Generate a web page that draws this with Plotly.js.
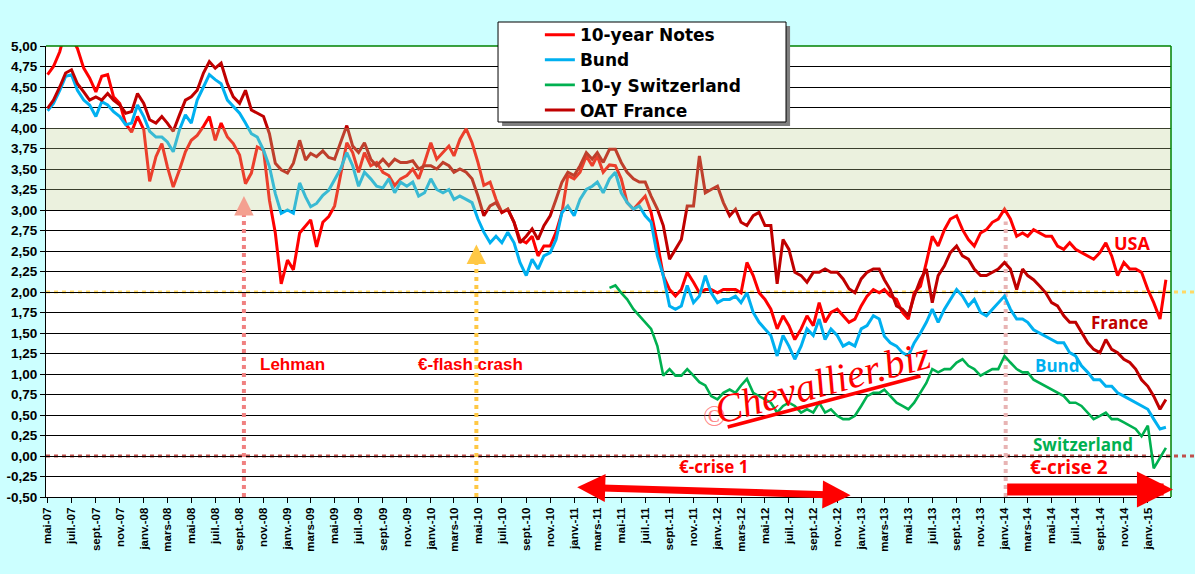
<!DOCTYPE html>
<html><head><meta charset="utf-8">
<script src="https://cdn.plot.ly/plotly-3.0.1.min.js"></script>
<style>html,body{margin:0;padding:0;background:#CCFFFF;} #chart{width:1195px;height:574px;}</style>
</head><body><div id="chart"></div>
<script>
// Grid of observations: 1st and 16th of each month, starting May 2007
const gridStartYear = 2007, gridStartMonth = 5;
const swissStartIndex = 94; // Swiss series starts April 2011

const usNotes = [
4.65,4.75,4.93,5.20,5.10,4.97,4.73,4.61,4.44,4.63,
4.65,4.38,4.30,4.05,3.95,4.14,3.98,3.35,3.65,3.81,
3.53,3.28,3.49,3.71,3.85,3.91,4.02,4.14,3.85,4.06,
3.89,3.81,3.67,3.32,3.45,3.77,3.73,3.12,2.72,2.10,
2.39,2.27,2.72,2.80,2.88,2.55,2.85,2.92,3.05,3.42,
3.82,3.70,3.46,3.70,3.54,3.58,3.46,3.42,3.30,3.38,
3.42,3.50,3.38,3.58,3.82,3.62,3.70,3.78,3.66,3.86,
3.99,3.82,3.58,3.30,3.34,3.13,2.97,3.01,2.85,2.64,
2.60,2.68,2.44,2.56,2.56,2.73,2.97,3.42,3.38,3.46,
3.66,3.54,3.66,3.46,3.55,3.54,3.38,3.09,3.01,3.09,
3.17,2.97,2.60,2.20,2.03,1.95,2.03,2.24,2.12,1.99,
2.03,2.03,1.99,2.03,2.03,2.03,1.99,2.36,2.20,1.99,
1.91,1.79,1.55,1.71,1.59,1.42,1.55,1.71,1.59,1.87,
1.63,1.75,1.79,1.71,1.63,1.67,1.83,1.95,2.03,1.99,
2.03,1.95,1.91,1.75,1.67,1.99,2.07,2.36,2.68,2.56,
2.76,2.89,2.93,2.76,2.64,2.56,2.72,2.76,2.85,2.89,
3.01,2.89,2.68,2.72,2.68,2.76,2.72,2.68,2.68,2.56,
2.52,2.60,2.52,2.48,2.44,2.40,2.48,2.60,2.44,2.20,
2.36,2.28,2.28,2.24,2.03,1.87,1.67,2.15];

const bund = [
4.21,4.30,4.46,4.63,4.65,4.46,4.34,4.28,4.14,4.32,
4.28,4.20,4.14,4.04,4.06,4.28,4.14,3.96,3.89,3.89,
3.83,3.71,3.98,4.16,4.06,4.34,4.50,4.65,4.59,4.54,
4.34,4.26,4.18,4.06,3.93,3.89,3.73,3.53,3.20,2.96,
3.00,2.96,3.33,3.16,3.04,3.08,3.18,3.24,3.38,3.50,
3.70,3.54,3.29,3.46,3.38,3.29,3.27,3.38,3.21,3.34,
3.29,3.34,3.17,3.21,3.38,3.25,3.21,3.25,3.13,3.17,
3.13,3.09,2.89,2.73,2.60,2.68,2.60,2.73,2.60,2.36,
2.20,2.40,2.28,2.44,2.48,2.64,2.97,3.05,2.93,3.13,
3.25,3.29,3.34,3.21,3.38,3.46,3.21,3.09,3.01,3.05,
2.93,2.85,2.44,2.20,1.83,1.79,1.83,2.08,1.87,1.95,
2.20,1.99,1.87,1.91,1.91,1.95,1.87,1.99,1.75,1.63,
1.55,1.47,1.22,1.47,1.34,1.18,1.34,1.55,1.47,1.67,
1.42,1.55,1.47,1.34,1.38,1.34,1.55,1.59,1.71,1.67,
1.46,1.38,1.34,1.26,1.22,1.38,1.50,1.63,1.79,1.63,
1.79,1.91,2.03,1.95,1.83,1.91,1.75,1.71,1.79,1.87,
1.95,1.79,1.67,1.67,1.63,1.54,1.50,1.46,1.42,1.38,
1.38,1.26,1.22,1.10,1.02,0.93,0.93,0.85,0.85,0.77,
0.73,0.69,0.65,0.61,0.57,0.45,0.33,0.35];

const swiss = [
2.05,2.08,1.99,1.91,1.79,1.71,1.63,1.55,1.34,0.98,
1.06,0.98,0.98,1.06,0.98,0.90,0.86,0.73,0.69,0.77,
0.81,0.77,0.86,0.94,0.77,0.73,0.69,0.65,0.53,0.61,
0.65,0.61,0.53,0.57,0.53,0.65,0.53,0.57,0.49,0.45,
0.45,0.49,0.61,0.73,0.77,0.77,0.81,0.73,0.65,0.61,
0.57,0.65,0.77,0.89,1.06,1.02,1.06,1.06,1.14,1.18,
1.10,1.06,0.98,1.02,1.06,1.06,1.22,1.14,1.06,1.02,
1.02,0.93,0.89,0.85,0.81,0.77,0.73,0.65,0.65,0.61,
0.53,0.45,0.49,0.53,0.45,0.45,0.41,0.37,0.33,0.24,
0.37,-0.15,-0.02,0.10];

const oatFrance = [
4.24,4.34,4.50,4.67,4.71,4.54,4.44,4.34,4.38,4.34,
4.42,4.34,4.28,4.18,4.20,4.42,4.30,4.10,4.06,4.14,
4.06,3.96,4.16,4.34,4.38,4.46,4.67,4.81,4.73,4.79,
4.54,4.38,4.30,4.46,4.22,4.18,4.14,3.93,3.57,3.49,
3.45,3.57,3.85,3.61,3.69,3.65,3.72,3.64,3.62,3.82,
4.03,3.78,3.70,3.82,3.62,3.54,3.62,3.54,3.62,3.58,
3.58,3.60,3.50,3.54,3.54,3.50,3.58,3.54,3.46,3.50,
3.46,3.38,3.17,2.93,3.05,3.09,2.97,3.01,2.85,2.60,
2.68,2.77,2.64,2.81,2.93,3.13,3.34,3.46,3.42,3.54,
3.70,3.62,3.70,3.58,3.74,3.74,3.58,3.46,3.38,3.34,
3.34,3.17,3.01,2.81,2.40,2.52,2.64,3.05,3.05,3.66,
3.21,3.25,3.29,3.09,2.93,3.01,2.85,2.81,2.93,2.97,
2.81,2.81,2.10,2.64,2.52,2.24,2.20,2.12,2.24,2.24,
2.28,2.24,2.24,2.16,2.04,1.99,2.16,2.24,2.28,2.28,
2.15,2.03,1.83,1.79,1.71,1.95,2.15,2.28,1.87,2.20,
2.32,2.48,2.56,2.44,2.40,2.28,2.20,2.20,2.24,2.28,
2.36,2.28,2.03,2.28,2.20,2.15,2.07,1.99,1.87,1.83,
1.71,1.63,1.63,1.50,1.38,1.30,1.26,1.42,1.30,1.26,
1.18,1.14,1.06,0.93,0.85,0.73,0.57,0.69];

const seriesNames = ['10-year Notes','Bund','10-y Switzerland','OAT France'];
const seriesColors = ['#FF0000','#00B0F0','#00B050','#C00000'];

const xTickLabels = ['mai-07','juil.-07','sept.-07','nov.-07',
'janv.-08','mars-08','mai-08','juil.-08','sept.-08','nov.-08',
'janv.-09','mars-09','mai-09','juil.-09','sept.-09','nov.-09',
'janv.-10','mars-10','mai-10','juil.-10','sept.-10','nov.-10',
'janv.-11','mars-11','mai-11','juil.-11','sept.-11','nov.-11',
'janv.-12','mars-12','mai-12','juil.-12','sept.-12','nov.-12',
'janv.-13','mars-13','mai-13','juil.-13','sept.-13','nov.-13',
'janv.-14','mars-14','mai-14','juil.-14','sept.-14','nov.-14',
'janv.-15'];
const yTickVals = [5,4.75,4.5,4.25,4,3.75,3.5,3.25,3,2.75,2.5,2.25,2,1.75,1.5,1.25,1,0.75,0.5,0.25,0,-0.25,-0.5];
const yTickLabels = ['5,00','4,75','4,50','4,25','4,00','3,75','3,50','3,25','3,00','2,75','2,50','2,25','2,00','1,75','1,50','1,25','1,00','0,75','0,50','0,25','0,00','-0,25','-0,50'];

function monthDate(addMonths, day){
  const t = gridStartYear*12 + (gridStartMonth-1) + addMonths;
  const y = Math.floor(t/12), m = t%12 + 1;
  return y + '-' + String(m).padStart(2,'0') + '-' + String(day).padStart(2,'0');
}
function gridDate(k){ return monthDate(Math.floor(k/2), k%2 ? 16 : 1); }
const dates = usNotes.map((_,k)=>gridDate(k));
const swissDates = swiss.map((_,i)=>gridDate(i+swissStartIndex));
const xTickVals = xTickLabels.map((_,i)=>monthDate(2*i,1));

const seriesX = [dates, dates, swissDates, dates];
const seriesY = [usNotes, bund, swiss, oatFrance];
const traces = seriesNames.map((n,i)=>({
  type:'scatter', mode:'lines', name:n, x:seriesX[i], y:seriesY[i],
  line:{color:seriesColors[i], width: i===2 ? 2.6 : 3}
}));

const F = 'Liberation Sans, Arial, sans-serif';
const C = 'Open Sans, Liberation Sans, sans-serif';

const shapes = [
  {type:'line', layer:'between', xref:'paper', x0:0, x1:1, yref:'y', y0:2, y1:2, line:{color:'#FFFFFF', width:2}},
  {type:'line', layer:'between', xref:'paper', x0:0, x1:1.0213, yref:'y', y0:2, y1:2, line:{color:'#FFD966', width:3, dash:'4px,4px'}},
  {type:'line', layer:'between', xref:'paper', x0:0, x1:1, yref:'y', y0:0, y1:0, line:{color:'#FFFFFF', width:2}},
  {type:'line', layer:'between', xref:'paper', x0:0, x1:1.0213, yref:'y', y0:0, y1:0, line:{color:'#C0504D', width:3, dash:'4px,4px'}},
  {type:'line', layer:'between', xref:'x', x0:'2008-09-12', x1:'2008-09-12', yref:'y', y0:-0.5, y1:3.02, line:{color:'#F08080', width:4, dash:'4px,4px'}},
  {type:'line', layer:'between', xref:'x', x0:'2010-04-27', x1:'2010-04-27', yref:'y', y0:-0.5, y1:2.45, line:{color:'#FFC845', width:4, dash:'4px,4px'}},
  {type:'line', layer:'between', xref:'x', x0:'2014-01-04', x1:'2014-01-04', yref:'y', y0:-0.5, y1:2.86, line:{color:'#E8B4B4', width:4, dash:'4px,4px'}},
  {type:'rect', layer:'above', xref:'paper', x0:0, x1:1, yref:'y', y0:3, y1:4, fillcolor:'rgba(188,208,145,0.3)', line:{width:0}},
  {type:'line', layer:'above', xref:'paper', x0:0, x1:1, yref:'paper', y0:1, y1:1, line:{color:'#008000', width:1.5}},
  {type:'line', layer:'above', xref:'paper', x0:1, x1:1, yref:'paper', y0:0, y1:1, line:{color:'#008000', width:1.5}},
  // watermark underline
  {type:'line', layer:'above', xref:'x', x0:'2012-01-27', x1:'2013-06-01', yref:'y', y0:0.354, y1:0.976, line:{color:'#FF0000', width:3.5}},
  // legend box shadow + box
  {type:'rect', layer:'above', xref:'paper', yref:'paper', x0:0.4054, x1:0.6614, y0:0.8226, y1:1.0443, fillcolor:'#7F7F7F', line:{width:0}},
  {type:'rect', layer:'above', xref:'paper', yref:'paper', x0:0.4018, x1:0.6578, y0:0.8315, y1:1.0532, fillcolor:'#FFFFFF', line:{color:'#000000', width:1}}
];

const annotations = [
  {x:'2009-01-15', y:1.11, text:'Lehman', showarrow:false, font:{family:F, size:17, color:'#FF0000', weight:'bold'}},
  {x:'2010-04-11', y:1.11, text:'€-flash crash', showarrow:false, font:{family:F, size:17, color:'#FF0000', weight:'bold'}},
  {x:'2011-12-21', y:-0.134, text:'€-crise 1', showarrow:false, font:{family:C, size:17, color:'#FF0000', weight:'bold'}},
  {x:'2014-06-15', y:-0.134, text:'€-crise 2', showarrow:false, font:{family:C, size:19, color:'#FF0000', weight:'bold'}},
  {x:'2014-11-23', y:2.60, text:'USA', showarrow:false, font:{family:C, size:18, color:'#FF0000', weight:'bold'}},
  {x:'2014-10-21', y:1.63, text:'France', showarrow:false, font:{family:C, size:17, color:'#C00000', weight:'bold'}},
  {x:'2014-05-16', y:1.10, text:'Bund', showarrow:false, font:{family:C, size:17, color:'#00B0F0', weight:'bold'}},
  {x:'2014-07-20', y:0.14, text:'Switzerland', showarrow:false, font:{family:C, size:17, color:'#00B050', weight:'bold'}},
  {x:'2008-09-12', y:3.17, ax:'2008-09-12', ay:2.98, axref:'x', ayref:'y', text:'', showarrow:true, arrowhead:2, arrowsize:1.3, arrowwidth:3, arrowcolor:'#F4A090'},
  {x:'2010-04-27', y:2.58, ax:'2010-04-27', ay:2.42, axref:'x', ayref:'y', text:'', showarrow:true, arrowhead:2, arrowsize:1.3, arrowwidth:3, arrowcolor:'#FFC845'},
  {x:'2012-12-05', y:-0.48, ax:'2011-01-05', ay:-0.38, axref:'x', ayref:'y', text:'', showarrow:true, arrowhead:2, arrowside:'end+start', arrowsize:0.8, arrowwidth:7, arrowcolor:'#FF0000'},
  {x:'2015-03-06', y:-0.41, ax:'2014-01-04', ay:-0.41, axref:'x', ayref:'y', text:'', showarrow:true, arrowhead:2, arrowsize:0.6, arrowwidth:12, arrowcolor:'#FF0000'},
  {x:'2011-12-24', y:0.49, text:'©', showarrow:false, font:{family:'Liberation Serif, serif', size:30, color:'rgba(255,70,70,0.65)'}},
  {x:'2012-09-25', y:0.90, text:'Chevallier.biz', showarrow:false, textangle:-15, font:{family:'Liberation Serif, serif', size:40, color:'#FF0000', style:'italic'}}
];

const layout = {
  width:1195, height:574,
  paper_bgcolor:'#CCFFFF', plot_bgcolor:'#FFFFFF',
  margin:{l:46, r:24, t:46, b:77},
  showlegend:true,
  legend:{x:0.439, y:1.064, xanchor:'left', yanchor:'top', bgcolor:'rgba(0,0,0,0)', borderwidth:0,
          font:{family:'DejaVu Sans, Liberation Sans, sans-serif', size:17, color:'#000000', weight:'bold'}, itemwidth:30, tracegroupgap:0},
  xaxis:{type:'date', range:['2007-04-27','2015-03-01'], tickmode:'array', tickvals:xTickVals, ticktext:xTickLabels,
         tickangle:-90, tickfont:{family:F, size:11.5, color:'#000000', weight:'bold'}, showgrid:false,
         showline:true, linecolor:'#000000', linewidth:1, ticks:'outside', ticklen:5, tickcolor:'#000000', zeroline:false},
  yaxis:{range:[-0.5,5], tickmode:'array', tickvals:yTickVals, ticktext:yTickLabels, showgrid:true, gridcolor:'#000000', gridwidth:1,
         showline:true, linecolor:'#000000', linewidth:1, ticks:'outside', ticklen:5, tickcolor:'#000000', zeroline:false,
         tickfont:{family:F, size:13.5, color:'#000000', weight:'bold'}},
  shapes:shapes,
  annotations:annotations
};

Plotly.newPlot('chart', traces, layout, {staticPlot:true, displayModeBar:false});
</script>
</body></html>
